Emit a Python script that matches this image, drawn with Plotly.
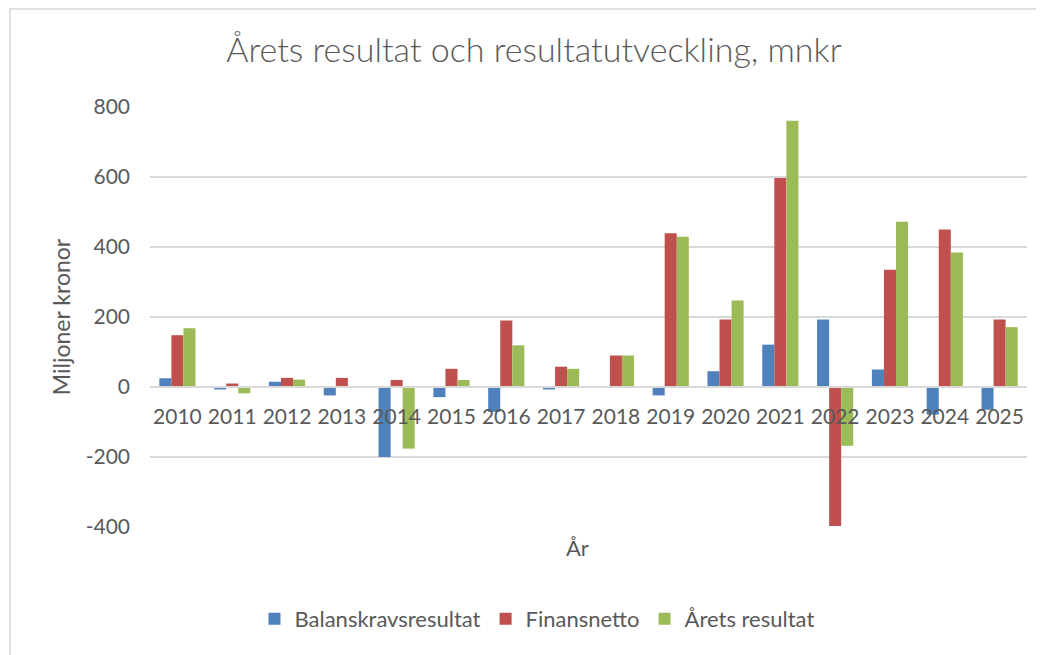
import plotly.graph_objects as go

years = ["2010", "2011", "2012", "2013", "2014", "2015", "2016", "2017",
         "2018", "2019", "2020", "2021", "2022", "2023", "2024", "2025"]
balanskrav = [25, -7, 15, -24, -200, -29, -71, -7, 0, -24, 45, 121, 193, 50, -79, -65]
finansnetto = [148, 10, 26, 26, 20, 52, 190, 58, 90, 439, 193, 597, -397, 335, 450, 193]
arets_resultat = [168, -18, 21, 0, -176, 20, 119, 52, 90, 429, 247, 761, -168, 472, 384, 171]
y_ticks = [-400, -200, 0, 200, 400, 600, 800]
y_tick_text = ["-400", "-200", "0", "200", "400", "600", "800"]

W, H = 1044, 655
OFF = 8  # page body margin
L, R, T, B = 150 - OFF, 1027 - OFF, 107 - OFF, 527 - OFF
pw, ph = R - L, B - T

def px(x):
    return (x - OFF - L) / pw

def py(y):
    return (B - (y - OFF)) / ph

fig = go.Figure()
for name, vals, col in [("Balanskravsresultat", balanskrav, "#4F81BD"),
                        ("Finansnetto", finansnetto, "#C0504D"),
                        ("Årets resultat", arets_resultat, "#9BBB59")]:
    fig.add_trace(go.Bar(x=years, y=vals, name=name, marker_color=col,
                         marker_line_width=0))

font = "Lato, Open Sans, sans-serif"
fig.update_layout(
    width=W, height=H,
    margin=dict(l=L, r=W - R, t=T, b=H - B),
    paper_bgcolor="white", plot_bgcolor="white",
    barmode="group", bargap=0.34, bargroupgap=0,
    font=dict(family=font, color="#595959", size=21),
    title=dict(text="Årets resultat och resultatutveckling, mnkr",
               x=px(534), xref="paper", xanchor="center",
               y=1 - (50 - OFF) / H, yanchor="middle",
               font=dict(family=font, size=34, color="#595959", weight=300)),
    showlegend=True,
    legend=dict(orientation="h", x=px(537), xanchor="center",
                y=py(619), yanchor="middle", font=dict(size=22, color="#595959"),
                itemwidth=30, traceorder="normal"),
    xaxis=dict(type="category", anchor="free", position=py(387),
               showline=True, linecolor="#D9D9D9", linewidth=1.5,
               showgrid=False, ticks="", tickfont=dict(size=21, color="#595959"),
               ticklabelstandoff=11),
    yaxis=dict(range=[-400, 800], tickvals=y_ticks, ticktext=y_tick_text,
               showgrid=True, gridcolor="#D9D9D9", gridwidth=1.5, zeroline=False,
               ticks="", tickfont=dict(size=21, color="#595959"),
               ticklabelstandoff=19,
               title=dict(text="Miljoner kronor", font=dict(size=23, color="#595959"),
                          standoff=8)),
    shapes=[dict(type="rect", xref="paper", yref="paper",
                 x0=px(10), x1=px(1070), y0=py(9), y1=py(680),
                 line=dict(color="#D9D9D9", width=1.5), layer="below")],
    annotations=[dict(text="År", xref="paper", yref="paper", x=px(577), y=py(547),
                      xanchor="center", yanchor="middle", showarrow=False,
                      font=dict(size=22, color="#595959"))],
)

fig.write_html("out.html")
